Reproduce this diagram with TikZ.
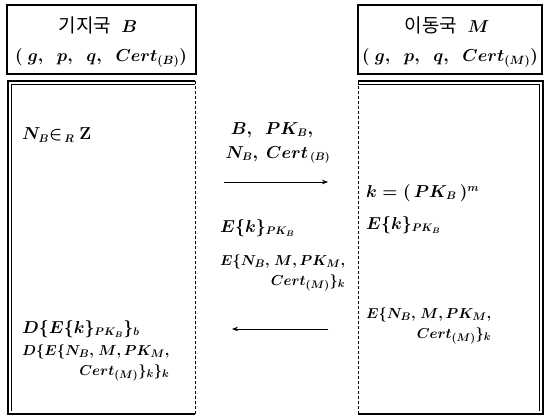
\documentclass[tikz,border=0pt]{standalone}
\usepackage{amsmath, amssymb, bm}
\usepackage{fontspec}
\newfontfamily\krfont{Noto Sans CJK KR}
\usetikzlibrary{arrows.meta}

\tikzset{
  hdrbox/.style={draw, line width=1.6pt},
  outerline/.style={draw, line width=1.4pt},
  innerline/.style={draw, line width=0.6pt},
  sepline/.style={draw, densely dashed, line width=0.6pt},
  msg/.style={-{Stealth[length=6pt,width=4.5pt]}, line width=0.8pt},
  txt/.style={font=\fontsize{16}{20}\selectfont\boldmath, inner sep=0pt},
  ltxt/.style={font=\fontsize{15}{20}\selectfont\boldmath, inner sep=0pt},
  htxt/.style={font=\fontsize{17}{20}\selectfont\boldmath, inner sep=0pt}
}

\begin{document}
\begin{tikzpicture}[x=1pt, y=-1pt]
  \useasboundingbox (0,0) rectangle (546,417);
  % Kopfzeilen
  \draw[hdrbox] (7,5) rectangle (196,74);
  \draw[hdrbox] (358,5) rectangle (542,74);
  \node[htxt] (bsname) at (98,25) {{\krfont\fontsize{19}{20}\selectfont 기지국}\ \ $B$};
  \node[htxt] (bsparm) at (101,58) {$(\ g,\ \ p,\ \ q,\ \ Cert_{(B)})$};
  \node[htxt] (msname) at (447,25) {{\krfont\fontsize{19}{20}\selectfont 이동국}\ \ $M$};
  \node[htxt] (msparm) at (450,58) {$(\ g,\ \ p,\ \ q,\ \ Cert_{(M)})$};
  % Rahmen
  \draw[outerline] (195,81) -- (8,81) -- (8,414) -- (195,414);
  \draw[innerline] (195,84.5) -- (11.5,84.5) -- (11.5,410.5);
  \draw[sepline] (195,81) -- (195,414);
  \draw[outerline] (358,81) -- (543,81) -- (543,414) -- (358,414);
  \draw[innerline] (358,84.5) -- (539.5,84.5) -- (539.5,410.5);
  \draw[sepline] (358,81) -- (358,414);
  % Basisstation
  \node[txt, anchor=west] (nonce) at (22,135) {$N_B{\in}_{\,R}\ \mathbf{Z}$};
  \node[txt, anchor=west] (deck) at (22,329) {$D\{E\{k\}_{PK_B}\}_b$};
  \node[ltxt, anchor=north west, align=right] (decm) at (22,344)
    {$D\{E\{N_B{,}\ M{,}\,PK_M{,}$\\ $Cert_{(M)}\}_k\}_k$};
  % Nachrichten
  \node[txt] (msg1a) at (272,130) {$B,\ \ PK_B,$};
  \node[txt] (msg1b) at (278,155) {$N_B,\ Cert_{\,(B)}$};
  \coordinate (a1s) at (224,182);
  \coordinate (a1e) at (328,182);
  \draw[msg] (a1s) -- (a1e);
  \node[txt, anchor=west] (msg2a) at (220,228) {$E\{k\}_{PK_B}$};
  \node[ltxt, anchor=north west, align=right] (msg2b) at (220,254)
    {$E\{N_B{,}\ M{,}\,PK_M{,}$\\ $Cert_{(M)}\}_k$};
  \coordinate (a2s) at (328,329);
  \coordinate (a2e) at (232,329);
  \draw[msg] (a2s) -- (a2e);
  % Mobilstation
  \node[txt, anchor=west] (keyk) at (366,193) {$k = (\,PK_B\,)^m$};
  \node[txt, anchor=west] (enck) at (366,225) {$E\{k\}_{PK_B}$};
  \node[ltxt, anchor=north west, align=right] (encm) at (366,307)
    {$E\{N_B{,}\ M{,}\,PK_M{,}$\\ $Cert_{(M)}\}_k$};
\end{tikzpicture}
\end{document}
